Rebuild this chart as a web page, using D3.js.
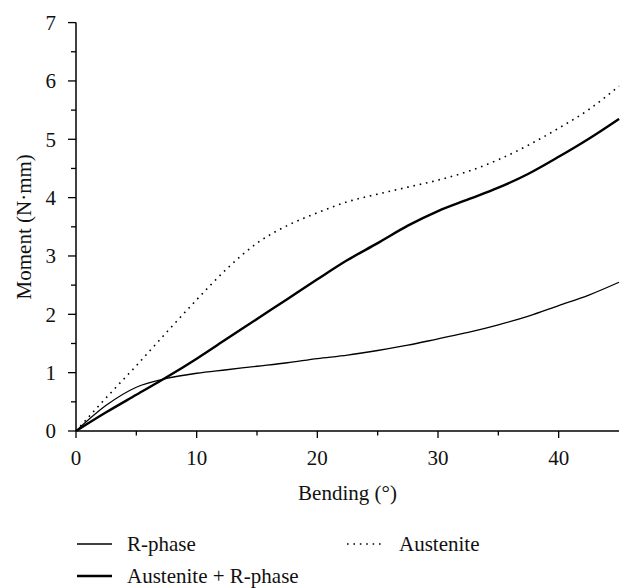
<!DOCTYPE html>
<html>
<head>
<meta charset="utf-8">
<script src="https://cdn.jsdelivr.net/npm/d3@7"></script>
<style>
  html, body { margin: 0; padding: 0; background: #fff; }
  svg text { font-family: "Liberation Serif", "DejaVu Serif", serif; fill: #111; }
</style>
</head>
<body>
<script>
// Bending angle (degrees)
const bending = [0, 2.5, 5, 7.5, 10, 12.5, 15, 17.5, 20, 22.5, 25, 27.5, 30, 32.5, 35, 37.5, 40, 42.5, 45];
// Moment (N·mm)
const rPhase = [0, 0.44, 0.75, 0.90, 0.99, 1.05, 1.11, 1.17, 1.24, 1.30, 1.38, 1.47, 1.58, 1.69, 1.82, 1.97, 2.15, 2.33, 2.55];
const austenite = [0, 0.57, 1.12, 1.69, 2.25, 2.78, 3.22, 3.52, 3.74, 3.93, 4.06, 4.18, 4.30, 4.45, 4.65, 4.90, 5.19, 5.51, 5.91];
const austeniteR = [0, 0.32, 0.62, 0.92, 1.24, 1.58, 1.92, 2.26, 2.60, 2.93, 3.22, 3.52, 3.77, 3.97, 4.17, 4.41, 4.70, 5.01, 5.35];
const xTicks = [0, 10, 20, 30, 40];
const yTicks = [0, 1, 2, 3, 4, 5, 6, 7];
const seriesNames = ["R-phase", "Austenite + R-phase", "Austenite"];

const W = 633, H = 588;
const svg = d3.select("body").append("svg").attr("width", W).attr("height", H);

const x = d3.scaleLinear().domain([0, 45]).range([76, 619]);
const y = d3.scaleLinear().domain([0, 7]).range([431, 22.6]);

const fs = 21;

// X axis
const gx = svg.append("g").attr("transform", `translate(0,${y(0)})`);
gx.append("line").attr("x1", x(0)).attr("x2", x(45)).attr("stroke", "#000").attr("stroke-width", 1.5);
gx.selectAll(".minor").data(d3.range(5, 45, 10)).join("line")
  .attr("x1", d => x(d)).attr("x2", d => x(d)).attr("y1", 0).attr("y2", 4.5)
  .attr("stroke", "#000").attr("stroke-width", 1.3);
gx.selectAll(".major").data(xTicks).join("line")
  .attr("x1", d => x(d)).attr("x2", d => x(d)).attr("y1", 0).attr("y2", 7)
  .attr("stroke", "#000").attr("stroke-width", 1.3);
gx.selectAll("text").data(xTicks).join("text")
  .attr("x", d => x(d)).attr("y", 34).attr("text-anchor", "middle")
  .attr("font-size", fs).text(d => d);

// Y axis
const gy = svg.append("g").attr("transform", `translate(${x(0)},0)`);
gy.append("line").attr("y1", y(0)).attr("y2", y(7)).attr("stroke", "#000").attr("stroke-width", 1.5);
gy.selectAll(".minor").data(d3.range(0.5, 7, 1)).join("line")
  .attr("y1", d => y(d)).attr("y2", d => y(d)).attr("x1", 0).attr("x2", -5)
  .attr("stroke", "#000").attr("stroke-width", 1.3);
gy.selectAll(".major").data(yTicks).join("line")
  .attr("y1", d => y(d)).attr("y2", d => y(d)).attr("x1", 0).attr("x2", -8)
  .attr("stroke", "#000").attr("stroke-width", 1.3);
gy.selectAll("text").data(yTicks).join("text")
  .attr("x", -20).attr("y", d => y(d)).attr("dy", "0.35em").attr("text-anchor", "end")
  .attr("font-size", fs).text(d => d);

// Axis titles
svg.append("text").attr("x", (x(0) + x(45)) / 2).attr("y", 500)
  .attr("text-anchor", "middle").attr("font-size", fs).text("Bending (°)");
svg.append("text").attr("transform", `translate(31,${(y(0) + y(7)) / 2}) rotate(-90)`)
  .attr("text-anchor", "middle").attr("font-size", fs).text("Moment (N·mm)");

// Lines
const line = d3.line().x(d => x(d[0])).y(d => y(d[1])).curve(d3.curveMonotoneX);
const styles = {
  "R-phase": { w: 1.3, dash: null },
  "Austenite + R-phase": { w: 2.4, dash: null },
  "Austenite": { w: 1.6, dash: "1.6,4.8" }
};
const seriesData = {
  "R-phase": rPhase,
  "Austenite + R-phase": austeniteR,
  "Austenite": austenite
};
seriesNames.forEach(name => {
  const pts = bending.map((b, i) => [b, seriesData[name][i]]);
  svg.append("path").datum(pts).attr("d", line)
    .attr("fill", "none").attr("stroke", "#000")
    .attr("stroke-width", styles[name].w)
    .attr("stroke-dasharray", styles[name].dash);
});

// Legend
const legendItems = [
  { name: "R-phase", lx: 77, ly: 544, len: 35, tx: 127 },
  { name: "Austenite + R-phase", lx: 77, ly: 576, len: 35, tx: 127 },
  { name: "Austenite", lx: 347, ly: 544, len: 38, tx: 399 }
];
legendItems.forEach(it => {
  const st = styles[it.name];
  svg.append("line").attr("x1", it.lx).attr("x2", it.lx + it.len)
    .attr("y1", it.ly).attr("y2", it.ly)
    .attr("stroke", "#000").attr("stroke-width", st.w)
    .attr("stroke-dasharray", st.dash);
  svg.append("text").attr("x", it.tx).attr("y", it.ly).attr("dy", "0.33em")
    .attr("font-size", fs).text(it.name);
});
</script>
</body>
</html>
